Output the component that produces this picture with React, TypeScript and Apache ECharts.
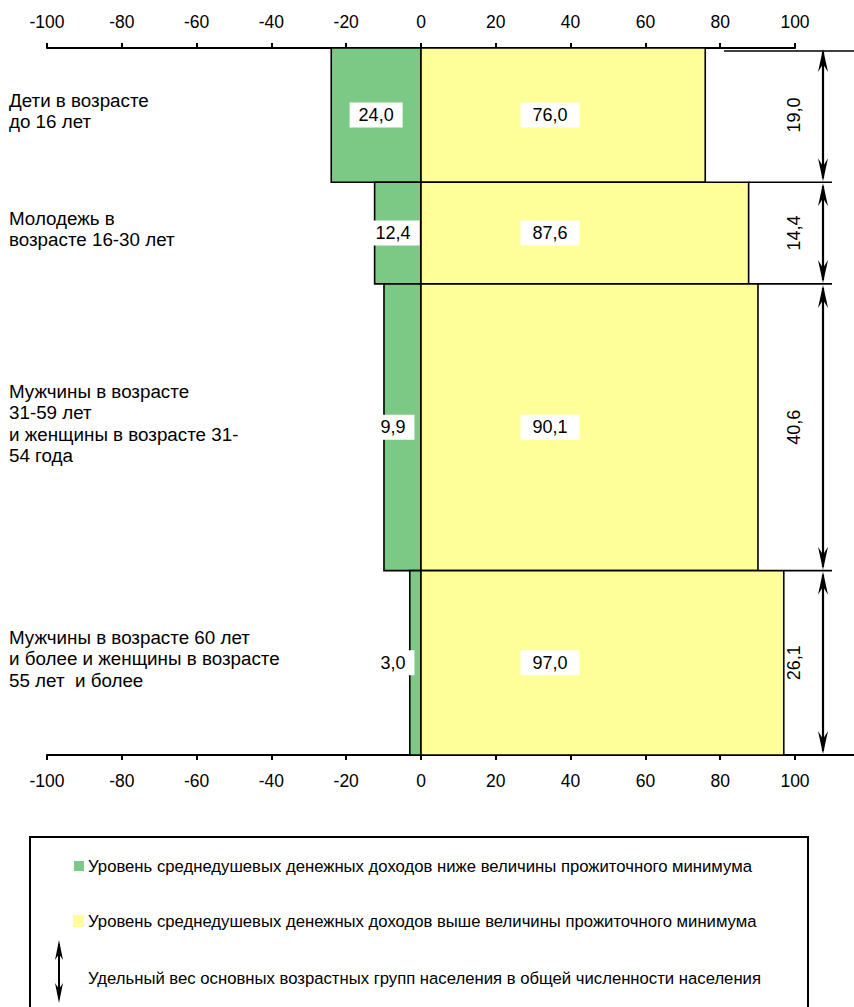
import React, { useEffect, useRef } from "react";
import * as echarts from "echarts";

const categories = [
  "Дети в возрасте\nдо 16 лет",
  "Молодежь в\nвозрасте 16-30 лет",
  "Мужчины в возрасте\n31-59 лет\nи женщины в возрасте 31-\n54 года",
  "Мужчины в возрасте 60 лет\nи более и женщины в возрасте\n55 лет  и более",
];
const belowMinimum = [24.0, 12.4, 9.9, 3.0];
const aboveMinimum = [76.0, 87.6, 90.1, 97.0];
const populationShare = [19.0, 14.4, 40.6, 26.1];
const axisMin = -100;
const axisMax = 100;
const axisStep = 20;
const legendLabels = [
  "Уровень среднедушевых денежных доходов ниже величины прожиточного минимума",
  "Уровень среднедушевых денежных доходов выше величины прожиточного минимума",
  "Удельный вес основных возрастных групп населения в общей численности населения",
];

const GREEN = "#7cc985";
const YELLOW = "#ffff99";
const FONT = '"Liberation Sans", Arial, sans-serif';

const fmt = (v: number) => v.toFixed(1).replace(".", ",");

const cumulative: number[] = [];
populationShare.reduce((acc, v, i) => {
  cumulative[i] = acc;
  return acc + v;
}, 0);
const totalShare = populationShare.reduce((a, b) => a + b, 0);

function arrowHeads(x: number, yTop: number, yBot: number) {
  const hl = 24;
  const hw = 5;
  const notch = 16;
  return [
    {
      type: "line",
      shape: { x1: x, y1: yTop + 4, x2: x, y2: yBot - 4 },
      style: { stroke: "#000", lineWidth: 2.2 },
    },
    {
      type: "polygon",
      shape: {
        points: [
          [x, yTop + 1],
          [x + hw, yTop + hl],
          [x, yTop + notch],
          [x - hw, yTop + hl],
        ],
      },
      style: { fill: "#000" },
    },
    {
      type: "polygon",
      shape: {
        points: [
          [x, yBot - 1],
          [x + hw, yBot - hl],
          [x, yBot - notch],
          [x - hw, yBot - hl],
        ],
      },
      style: { fill: "#000" },
    },
  ];
}

export default function App() {
  const ref = useRef<HTMLDivElement>(null);

  useEffect(() => {
    if (!ref.current) return;
    const chart = echarts.init(ref.current, undefined, { renderer: "svg" });

    const renderItem = (params: any, api: any) => {
      const i = api.value(0);
      const yTop = api.coord([0, cumulative[i]])[1];
      const yBot = api.coord([0, cumulative[i] + populationShare[i]])[1];
      const x0 = api.coord([0, 0])[0];
      const xg = api.coord([-belowMinimum[i], 0])[0];
      const xy = api.coord([aboveMinimum[i], 0])[0];
      const xEnd = api.coord([axisMax, 0])[0];
      const yMid = (yTop + yBot) / 2;
      const chartW = api.getWidth();

      const children: any[] = [];
      children.push({
        type: "rect",
        shape: { x: xg, y: yTop, width: x0 - xg, height: yBot - yTop },
        style: { fill: GREEN, stroke: "#000", lineWidth: 1.6 },
      });
      children.push({
        type: "rect",
        shape: { x: x0, y: yTop, width: xy - x0, height: yBot - yTop },
        style: { fill: YELLOW, stroke: "#000", lineWidth: 1.6 },
      });

      // value labels
      const gx = api.coord([-Math.max(belowMinimum[i] / 2, 7.5), 0])[0];
      children.push({
        type: "text",
        x: gx,
        y: yMid,
        style: {
          text: fmt(belowMinimum[i]),
          x: 0,
          y: 0,
          align: "center",
          verticalAlign: "middle",
          font: `18px ${FONT}`,
          fill: "#000",
          backgroundColor: "#fff",
          padding: [4, 9, 3, 9],
        },
      });
      const yx = api.coord([34.5, 0])[0];
      children.push({
        type: "text",
        x: yx,
        y: yMid,
        style: {
          text: fmt(aboveMinimum[i]),
          x: 0,
          y: 0,
          align: "center",
          verticalAlign: "middle",
          font: `18px ${FONT}`,
          fill: "#000",
          backgroundColor: "#fff",
          padding: [4, 12, 3, 12],
        },
      });

      // category label on the left
      children.push({
        type: "text",
        x: 9,
        y: yMid - 4,
        style: {
          text: categories[i],
          x: 0,
          y: 0,
          align: "left",
          verticalAlign: "middle",
          font: `18.8px ${FONT}`,
          lineHeight: 21.5,
          fill: "#000",
        },
      });

      // share label (rotated) and arrow
      children.push({
        type: "text",
        x: xEnd - 1,
        y: yMid,
        rotation: Math.PI / 2,
        style: {
          text: fmt(populationShare[i]),
          x: 0,
          y: 0,
          align: "center",
          verticalAlign: "middle",
          font: `18px ${FONT}`,
          fill: "#000",
        },
      });
      children.push(...arrowHeads(xEnd + 28, yTop, yBot));

      // boundary line on the right
      if (i > 0) {
        const xPrev = api.coord([aboveMinimum[i - 1], 0])[0];
        children.push({
          type: "line",
          shape: { x1: Math.max(xPrev, xy), y1: yTop, x2: xEnd + 37, y2: yTop },
          style: { stroke: "#000", lineWidth: 1.6 },
        });
      } else {
        children.push({
          type: "line",
          shape: { x1: api.coord([81, 0])[0], y1: yTop + 3, x2: chartW, y2: yTop + 3 },
          style: { stroke: "#000", lineWidth: 1.6 },
        });
      }
      if (i === populationShare.length - 1) {
        children.push({
          type: "line",
          shape: { x1: xEnd, y1: yBot, x2: chartW, y2: yBot },
          style: { stroke: "#000", lineWidth: 2 },
        });
      }
      return { type: "group", children };
    };

    const xAxisCommon = {
      type: "value",
      min: axisMin,
      max: axisMax,
      interval: axisStep,
      splitLine: { show: false },
      axisLine: { show: true, lineStyle: { color: "#000", width: 2 } },
      axisTick: { show: true, length: 5, lineStyle: { color: "#000", width: 2 } },
      axisLabel: {
        color: "#000",
        fontSize: 17.5,
        fontFamily: FONT,
        margin: 17,
        showMinLabel: true,
        showMaxLabel: true,
      },
    };

    const legendY = [866, 921, 978];

    chart.setOption({
      animation: false,
      backgroundColor: "#fff",
      grid: { left: 47, right: 59, top: 48, bottom: 252, containLabel: false },
      xAxis: [
        { ...xAxisCommon, position: "top" },
        { ...xAxisCommon, position: "bottom" },
      ],
      yAxis: {
        type: "value",
        min: 0,
        max: totalShare,
        inverse: true,
        show: false,
      },
      series: [
        {
          type: "custom",
          xAxisIndex: 0,
          clip: false,
          renderItem,
          data: categories.map((_, i) => [i, 0]),
          encode: { x: 0 },
        },
      ],
      graphic: [
        {
          type: "rect",
          shape: { x: 30, y: 837, width: 778, height: 200 },
          style: { fill: "none", stroke: "#000", lineWidth: 2 },
        },
        {
          type: "rect",
          shape: { x: 74, y: 861, width: 10, height: 10 },
          style: { fill: GREEN },
        },
        {
          type: "rect",
          shape: { x: 73, y: 915, width: 11, height: 12 },
          style: { fill: YELLOW },
        },
        {
          type: "group",
          children: [
            {
              type: "line",
              shape: { x1: 59, y1: 944, x2: 59, y2: 999 },
              style: { stroke: "#000", lineWidth: 2 },
            },
            {
              type: "polygon",
              shape: { points: [[59, 940], [63, 960], [59, 954], [55, 960]] },
              style: { fill: "#000" },
            },
            {
              type: "polygon",
              shape: { points: [[59, 1003], [63, 983], [59, 989], [55, 983]] },
              style: { fill: "#000" },
            },
          ],
        },
        ...legendLabels.map((t, k) => ({
          type: "text",
          x: 88,
          y: legendY[k],
          style: {
            text: t,
            x: 0,
            y: 0,
            align: "left",
            verticalAlign: "middle",
            font: `16.7px ${FONT}`,
            fill: "#000",
          },
        })),
      ],
    });

    return () => chart.dispose();
  }, []);

  return (
    <div
      ref={ref}
      style={{ position: "absolute", left: 0, top: 0, width: 854, height: 1007 }}
    />
  );
}
